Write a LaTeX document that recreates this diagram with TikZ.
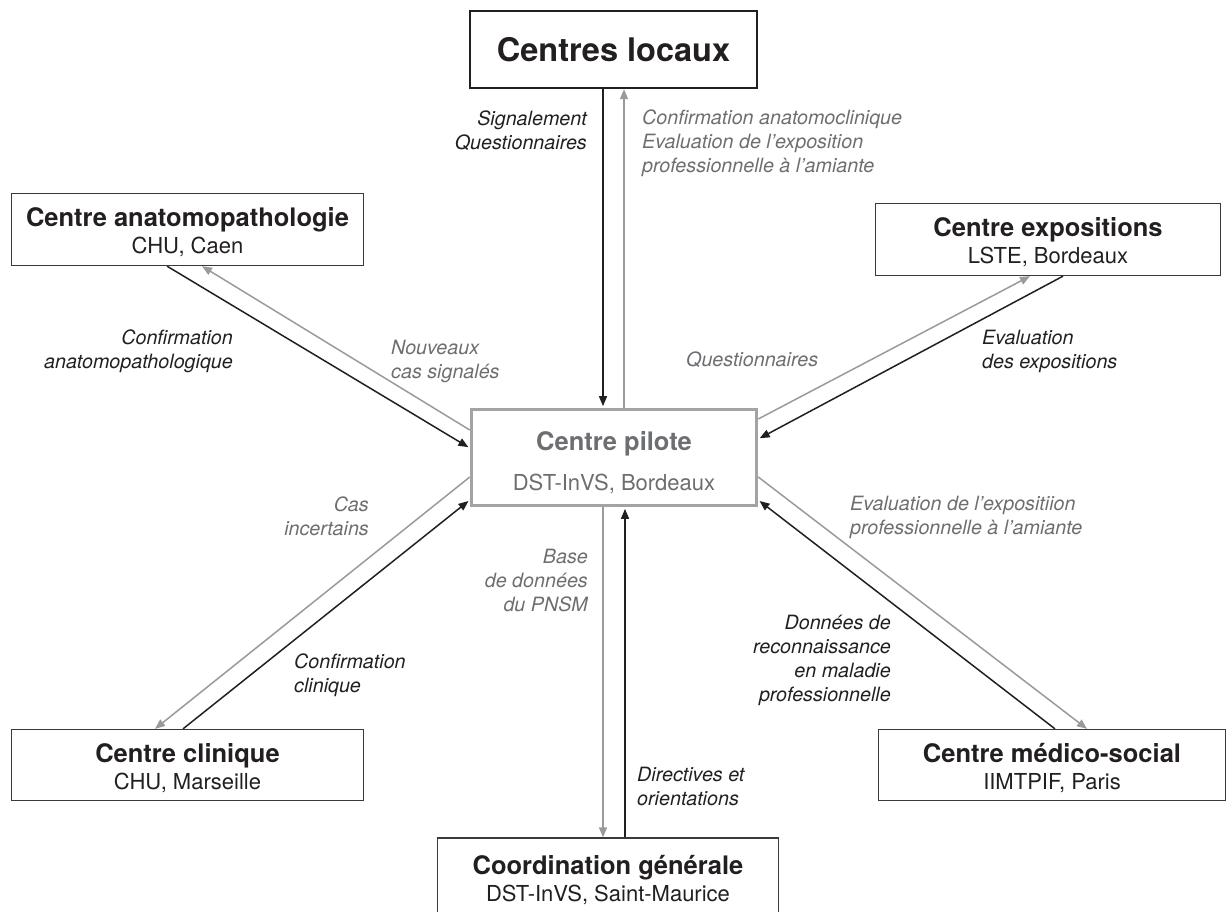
\documentclass[tikz,border=0pt]{standalone}
\usepackage{fontspec}
\setmainfont{TeX Gyre Heros}
\usetikzlibrary{arrows.meta}
\definecolor{ink}{HTML}{231F20}
\definecolor{grayline}{HTML}{9A9A9A}
\definecolor{graytext}{HTML}{6D6E71}
\definecolor{boxline}{HTML}{3A3A3A}
\definecolor{pilotline}{HTML}{A3A3A3}
\newcommand\boxtitle[1]{{\bfseries\fontsize{25.5}{27}\selectfont\rule{0pt}{25pt}#1}}
\newcommand\pilottitle[1]{{\bfseries\fontsize{25.5}{27}\selectfont\rule{0pt}{29pt}#1}}
\begin{document}
\begin{tikzpicture}[x=1pt,y=-1pt,
  box/.style={draw=boxline, line width=1.3pt, fill=white, rectangle, inner sep=0pt,
    align=center, font=\fontsize{22}{27}\selectfont, text=ink},
  pilotbox/.style={draw=pilotline, line width=3.5pt, fill=white, rectangle, inner sep=0pt,
    align=center, font=\fontsize{22}{40}\selectfont, text=graytext},
  blk/.style={draw=ink, line width=1.5pt, -{Triangle[length=10pt,width=8pt]}},
  gry/.style={draw=grayline, line width=1.5pt, -{Triangle[length=10pt,width=8pt]}},
  topilot/.style={shorten >=1.6pt},
  lbl/.style={inner sep=0pt, font=\itshape\fontsize{19.7}{24}\selectfont},
  lblk/.style={lbl, text=ink},
  lgry/.style={lbl, text=graytext}
]
\useasboundingbox (0,0) rectangle (1229,911);

% boxes
\node[box, draw=ink, line width=2.4pt, minimum width=287pt, minimum height=77pt,
  font=\bfseries\fontsize{32.5}{36}\selectfont] (locaux) at (613.5,49.5) {Centres locaux};
\node[box, minimum width=352pt, minimum height=72pt] (anat) at (187.5,229.5)
  {\boxtitle{Centre anatomopathologie}\\CHU, Caen};
\node[box, minimum width=345pt, minimum height=72pt] (expo) at (1048,239.5)
  {\boxtitle{Centre expositions}\\LSTE, Bordeaux};
\node[pilotbox, minimum width=285pt, minimum height=96pt] (pilote) at (614,457.5)
  {\pilottitle{Centre pilote}\\DST-InVS, Bordeaux};
\node[box, minimum width=352pt, minimum height=71pt] (clin) at (187.5,765)
  {\boxtitle{Centre clinique}\\CHU, Marseille};
\node[box, minimum width=347pt, minimum height=71pt] (medico) at (1052,765)
  {\boxtitle{Centre médico-social}\\IIMTPIF, Paris};
\node[box, minimum width=341pt, minimum height=78pt] (coord) at (608,877)
  {\rule{0pt}{0pt}\raisebox{3pt}{\boxtitle{Coordination générale}}\\\raisebox{3pt}{DST-InVS, Saint-Maurice}};

% connectors
\draw[blk, topilot] (603,0 |- locaux.south) -- (603,0 |- pilote.north);
\draw[gry] (624,0 |- pilote.north) -- (624,0 |- locaux.south);
\draw[gry] (603,0 |- pilote.south) -- (603,0 |- coord.north);
\draw[blk, topilot] (625,0 |- coord.north) -- (625,0 |- pilote.south);
\draw[blk, topilot] (167,0 |- anat.south) -- (pilote.west |- 0,448);
\draw[gry] (pilote.west |- 0,430) -- (202,0 |- anat.south);
\draw[gry] (pilote.west |- 0,477) -- (155,0 |- clin.north);
\draw[blk, topilot] (183,0 |- clin.north) -- (pilote.west |- 0,500);
\draw[gry] (pilote.east |- 0,419) -- (1030,0 |- expo.south);
\draw[blk, topilot] (1063,0 |- expo.south) -- (pilote.east |- 0,439);
\draw[gry] (pilote.east |- 0,477) -- (1087,0 |- medico.north);
\draw[blk, topilot] (1055,0 |- medico.north) -- (pilote.east |- 0,500);

% labels
\node[lblk, anchor=north east, align=right] (la) at (587,108.2)
  {\strut Signalement\\Questionnaires};
\node[lgry, anchor=north west, align=left] (lb) at (642,107.2)
  {\strut Confirmation anatomoclinique\\Evaluation de l’exposition\\professionnelle à l’amiante};
\node[lblk, anchor=north east, align=right] (lc) at (233,327.2)
  {\strut Confirmation\\anatomopathologique};
\node[lgry, anchor=north west, align=left] (ld) at (391,337.2)
  {\strut Nouveaux\\cas signalés};
\node[lgry, anchor=north west, align=left] (le) at (686,349.2)
  {\strut Questionnaires};
\node[lblk, anchor=north west, align=left] (lf) at (982,327.2)
  {\strut Evaluation\\des expositions};
\node[lgry, anchor=north east, align=right] (lg) at (369,494.2)
  {\strut Cas\\incertains};
\node[lblk, anchor=north west, align=left] (lh) at (294,651.2)
  {\strut Confirmation\\clinique};
\node[lgry, anchor=north east, align=right] (li) at (588,546.2)
  {\strut Base\\de données\\du PNSM};
\node[lblk, anchor=north west, align=left] (lj) at (637,764.2)
  {\strut Directives et\\orientations};
\node[lgry, anchor=north west, align=left] (lk) at (850,493.2)
  {\strut Evaluation de l’expositiion\\professionnelle à l’amiante};
\node[lblk, anchor=north east, align=right] (ll) at (891,612.2)
  {\strut Données de\\reconnaissance\\en maladie\\professionnelle};
\end{tikzpicture}
\end{document}
